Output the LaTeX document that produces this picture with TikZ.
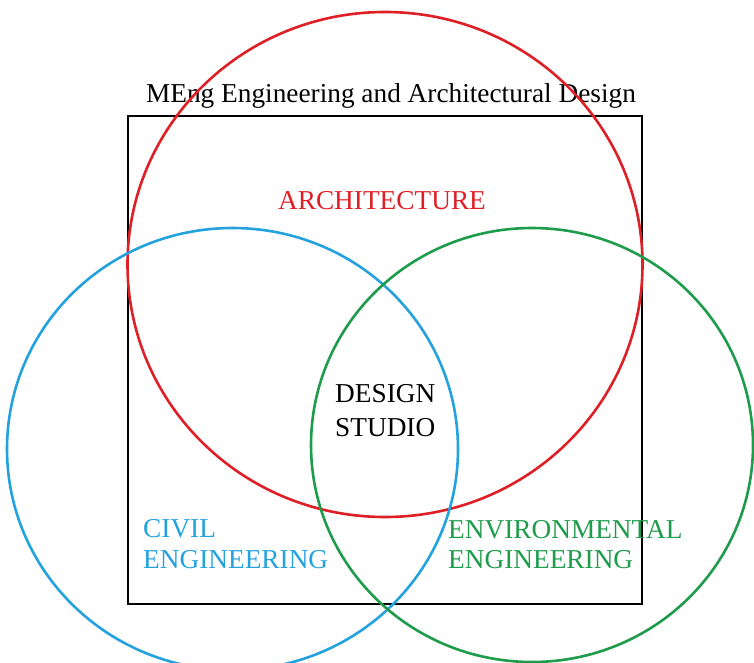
\documentclass[tikz,border=0pt]{standalone}
\usepackage{fontspec}
\setmainfont{Liberation Serif}
\definecolor{archred}{RGB}{222,32,38}
\definecolor{civilblue}{RGB}{36,162,222}
\definecolor{envgreen}{RGB}{30,156,76}
\def\labelfont{\fontsize{27.3}{31}\selectfont}

\begin{document}
\begin{tikzpicture}[x=1pt, y=-1pt,
                      ring/.style={line width=2.6pt},
                      label/.style={inner sep=0pt, font=\labelfont, align=left}]
    \useasboundingbox (0,0) rectangle (754,662);
    % programme frame
    \draw[line width=2pt] (128,116) rectangle (642,604);
    \node[label, anchor=base] (title) at (391,102) {MEng Engineering and Architectural Design};
    %
    \draw[ring, archred]   (385,264.5) ellipse [x radius=257.5, y radius=252.5];
    \draw[ring, civilblue] (232.5,449) ellipse [x radius=225.5, y radius=221];
    \draw[ring, envgreen]  (532,445)   ellipse [x radius=221, y radius=217];
    %
    \node[label, text=archred, anchor=base] (arch) at (382,209) {ARCHITECTURE};
    \node[label, anchor=north west] (studio) at (335,384) {DESIGN\\[3pt]STUDIO};
    \node[label, text=civilblue, anchor=north west] (civil) at (143,519) {CIVIL\\ENGINEERING};
    \node[label, text=envgreen, anchor=north west] (env) at (448,520) {ENVIRONMENTAL\\[-1pt]ENGINEERING};
\end{tikzpicture}
\end{document}
